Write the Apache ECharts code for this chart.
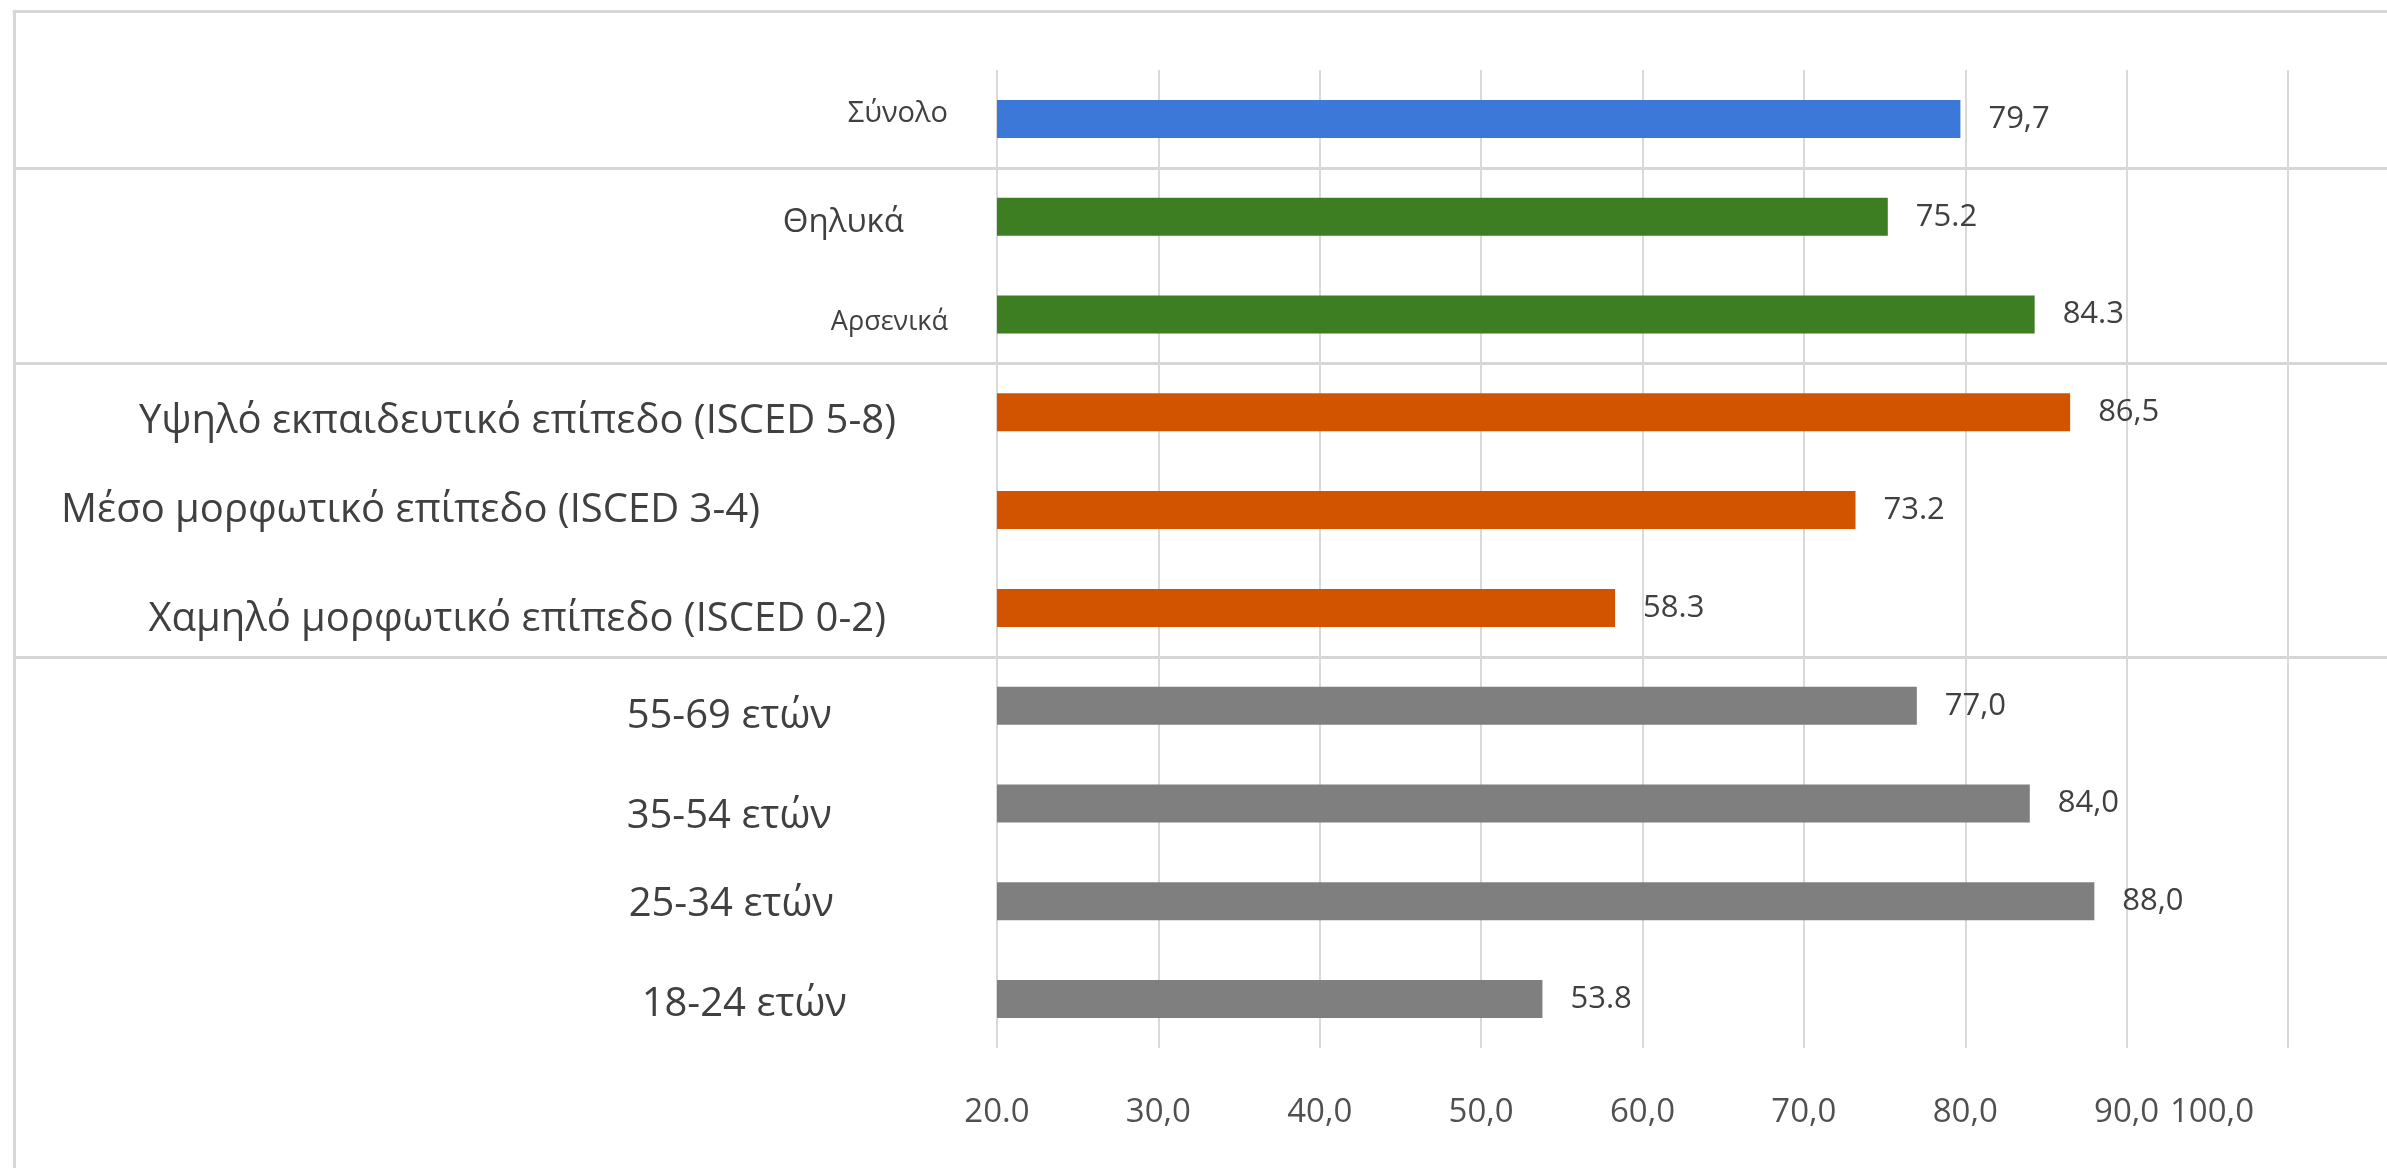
<!DOCTYPE html>
<html>
<head>
<meta charset="utf-8">
<script src="https://cdn.jsdelivr.net/npm/echarts@6/dist/echarts.min.js"></script>
<style>
html,body{margin:0;padding:0;background:#fff;}
#chart{width:2387px;height:1168px;}
</style>
</head>
<body>
<div id="chart"></div>
<script>
// ---- data ----
const categories = ['Σύνολο','Θηλυκά','Αρσενικά','Υψηλό εκπαιδευτικό επίπεδο (ISCED 5-8)','Μέσο μορφωτικό επίπεδο (ISCED 3-4)','Χαμηλό μορφωτικό επίπεδο (ISCED 0-2)','55-69 ετών','35-54 ετών','25-34 ετών','18-24 ετών'];
const values = [79.7, 75.2, 84.3, 86.5, 73.2, 58.3, 77.0, 84.0, 88.0, 53.8];
const valueLabels = ['79,7','75.2','84.3','86,5','73.2','58.3','77,0','84,0','88,0','53.8'];
const groups = ['total','sex','sex','edu','edu','edu','age','age','age','age'];
const tickLabels = ['20.0','30,0','40,0','50,0','60,0','70,0','80,0','90,0','100,0'];

// ---- styles ----
const groupColors = {total:'#3C78D8', sex:'#3E7E23', edu:'#D35400', age:'#7F7F7F'};
const catLabelStyle = [
  {size:29, pad:0, dy:-5},
  {size:33, pad:44, dy:6},
  {size:27, pad:0, dy:8},
  {size:40, pad:52, dy:9},
  {size:40, pad:188, dy:1},
  {size:40, pad:62, dy:12},
  {size:40, pad:116, dy:11},
  {size:40, pad:116, dy:13},
  {size:40, pad:114, dy:3},
  {size:40, pad:101, dy:6}
];
const FONT = 'Open Sans';
const TEXT = '#404040';
const LINE = '#d6d6d6';

const rich = {};
catLabelStyle.forEach((s, i) => {
  rich['c' + i] = {
    fontSize: s.size, fontFamily: FONT, color: TEXT,
    padding: [Math.max(0, 2 * s.dy), s.pad, Math.max(0, -2 * s.dy), 0]
  };
});

const chart = echarts.init(document.getElementById('chart'));
chart.setOption({
  backgroundColor: '#ffffff',
  animation: false,
  grid: [
    {left: 997, right: 99, top: 70, bottom: 120},
    {left: 14, right: 0, top: 70, bottom: 120},
    {left: 14, right: 0, top: 11, bottom: 0}
  ],
  xAxis: [
    {
      type: 'value', gridIndex: 0, min: 20, max: 100, interval: 10,
      axisLine: {show: false}, axisTick: {show: false},
      splitLine: {show: true, lineStyle: {color: '#d9d9d9', width: 2}},
      axisLabel: {
        margin: 48, fontSize: 33, fontFamily: FONT, color: '#505050',
        formatter: v => {
          const lbl = tickLabels[Math.round((v - 20) / 10)];
          return v === 100 ? '{last|' + lbl + '}' : lbl;
        },
        rich: {last: {fontSize: 33, fontFamily: FONT, color: '#505050', padding: [0, 152, 0, 0]}}
      }
    },
    {type: 'value', gridIndex: 1, min: 0, max: 1, show: false},
    {
      type: 'value', gridIndex: 2, min: 0, max: 1, position: 'top',
      axisLine: {show: true, onZero: false, lineStyle: {color: LINE, width: 3}},
      axisTick: {show: false}, axisLabel: {show: false}, splitLine: {show: false}
    }
  ],
  yAxis: [
    {
      type: 'category', gridIndex: 0, data: categories, inverse: true,
      axisLine: {show: false}, axisTick: {show: false}, splitLine: {show: false},
      axisLabel: {
        margin: 49,
        formatter: (v, i) => '{c' + i + '|' + v + '}',
        rich: rich
      }
    },
    {
      type: 'category', gridIndex: 1, data: categories, inverse: true,
      axisLine: {show: false}, axisTick: {show: false}, axisLabel: {show: false},
      splitLine: {
        show: true, showMinLine: true, showMaxLine: false,
        interval: (i) => i > 0 && i < groups.length && groups[i] !== groups[i - 1],
        lineStyle: {color: LINE, width: 3}
      }
    },
    {
      type: 'value', gridIndex: 2, min: 0, max: 1, position: 'left',
      axisLine: {show: true, onZero: false, lineStyle: {color: LINE, width: 3}},
      axisTick: {show: false}, axisLabel: {show: false}, splitLine: {show: false}
    }
  ],
  series: [{
    type: 'bar',
    xAxisIndex: 0, yAxisIndex: 0,
    barWidth: 38,
    data: values.map((v, i) => ({value: v, itemStyle: {color: groupColors[groups[i]]}})),
    label: {
      show: true, position: 'right', distance: 28,
      fontSize: 31, fontFamily: FONT, color: TEXT,
      padding: [6, 0, 0, 0],
      formatter: p => valueLabels[p.dataIndex]
    }
  }]
});
</script>
</body>
</html>
